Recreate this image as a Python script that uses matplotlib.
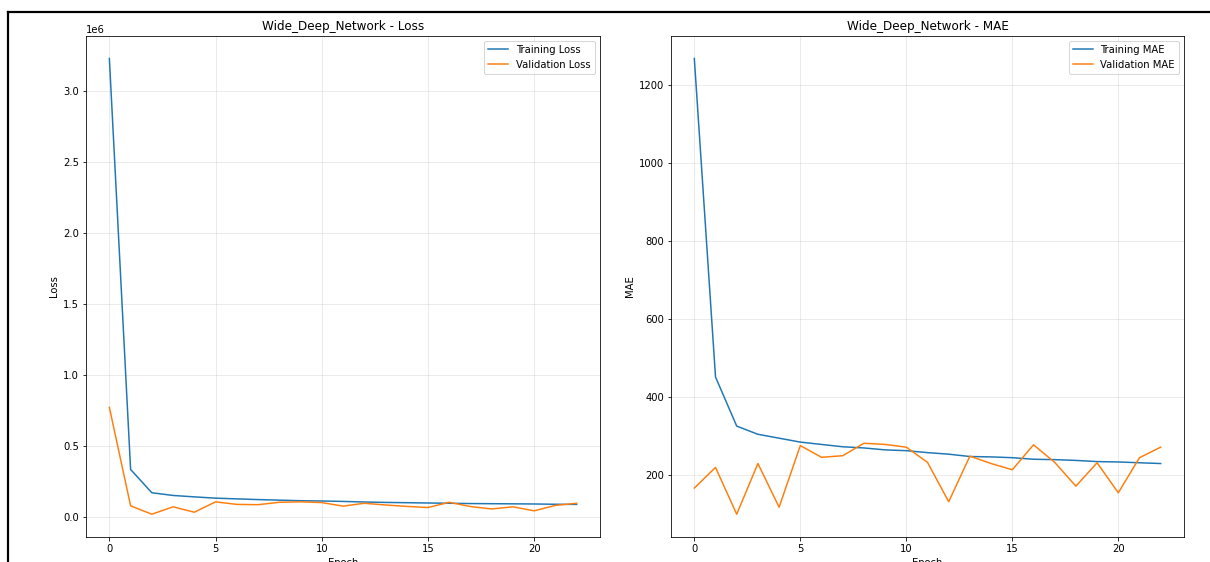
import matplotlib
matplotlib.use("Agg")
import matplotlib.pyplot as plt
from matplotlib.lines import Line2D

epochs = list(range(23))

train_loss = [3.23e6, 0.338e6, 0.174e6, 0.155e6, 0.145e6, 0.136e6, 0.131e6, 0.126e6,
              0.122e6, 0.118e6, 0.116e6, 0.113e6, 0.109e6, 0.106e6, 0.104e6, 0.102e6,
              0.100e6, 0.098e6, 0.097e6, 0.096e6, 0.095e6, 0.093e6, 0.092e6]
val_loss = [0.775e6, 0.082e6, 0.023e6, 0.075e6, 0.037e6, 0.110e6, 0.092e6, 0.090e6,
            0.107e6, 0.110e6, 0.105e6, 0.080e6, 0.100e6, 0.088e6, 0.078e6, 0.070e6,
            0.107e6, 0.077e6, 0.060e6, 0.075e6, 0.047e6, 0.085e6, 0.100e6]

train_mae = [1268, 451, 325, 304, 294, 284, 278, 272, 269, 264, 262, 257, 253, 247,
             246, 244, 240, 239, 237, 234, 233, 231, 229]
val_mae = [166, 219, 99, 229, 117, 275, 245, 249, 281, 278, 271, 232, 131, 248,
           229, 213, 277, 232, 171, 231, 154, 244, 271]

model_name = "Wide_Deep_Network"

DPI = 72
fig = plt.figure(figsize=(1210 / DPI, 562 / DPI), dpi=DPI)

H = 562.0
W = 1210.0
def rect(x0, x1, ytop, ybot):
    return [x0 / W, (H - ybot) / H, (x1 - x0) / W, (ybot - ytop) / H]

ax1 = fig.add_axes(rect(86, 600, 35.7, 537))
ax2 = fig.add_axes(rect(671, 1184, 35.7, 537))

ax1.plot(epochs, train_loss, label="Training Loss")
ax1.plot(epochs, val_loss, label="Validation Loss")
ax1.set_title(f"{model_name} - Loss")
ax1.set_xlabel("Epoch")
ax1.set_ylabel("Loss")
ax1.legend(loc="upper right")
ax1.grid(True, alpha=0.3)

ax2.plot(epochs, train_mae, label="Training MAE")
ax2.plot(epochs, val_mae, label="Validation MAE")
ax2.set_title(f"{model_name} - MAE")
ax2.set_xlabel("Epoch")
ax2.set_ylabel("MAE")
ax2.legend(loc="upper right")
ax2.grid(True, alpha=0.3)

# screenshot frame (top and left border)
fig.add_artist(Line2D([7.5 / W, 1.0], [(H - 12) / H, (H - 12) / H],
                      transform=fig.transFigure, color="black", linewidth=2.2))
fig.add_artist(Line2D([7.5 / W, 7.5 / W], [(H - 12) / H, 0.0],
                      transform=fig.transFigure, color="black", linewidth=2.2))

fig.savefig("out.png", dpi=DPI)
